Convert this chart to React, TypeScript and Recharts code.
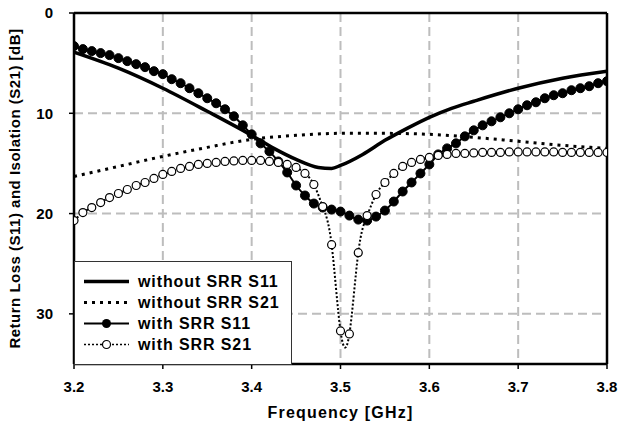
import React from "react";
import {
  LineChart,
  Line,
  XAxis,
  YAxis,
  CartesianGrid,
  Legend,
  ReferenceLine,
} from "recharts";

if (typeof document !== "undefined") document.body.style.margin = "0";

// frequency points (GHz)
const freqCoarse = [3.2, 3.25, 3.3, 3.35, 3.4, 3.425, 3.45, 3.475, 3.49, 3.5, 3.525, 3.55, 3.575, 3.6, 3.625, 3.65, 3.7, 3.75, 3.8];
const freqS21Plain = [3.2, 3.25, 3.3, 3.35, 3.4, 3.45, 3.5, 3.55, 3.6, 3.65, 3.7, 3.75, 3.8];
const freqFine = [
  3.2, 3.21, 3.22, 3.23, 3.24, 3.25, 3.26, 3.27, 3.28, 3.29,
  3.3, 3.31, 3.32, 3.33, 3.34, 3.35, 3.36, 3.37, 3.38, 3.39,
  3.4, 3.41, 3.42, 3.43, 3.44, 3.45, 3.46, 3.47, 3.48, 3.49,
  3.5, 3.51, 3.52, 3.53, 3.54, 3.55, 3.56, 3.57, 3.58, 3.59,
  3.6, 3.61, 3.62, 3.63, 3.64, 3.65, 3.66, 3.67, 3.68, 3.69,
  3.7, 3.71, 3.72, 3.73, 3.74, 3.75, 3.76, 3.77, 3.78, 3.79, 3.8,
];

// dB values
const withoutSrrS11 = [3.9, 5.5, 7.5, 9.8, 12.2, 13.5, 14.6, 15.4, 15.5, 15.2, 14.1, 12.7, 11.5, 10.4, 9.5, 8.8, 7.5, 6.5, 5.8];
const withoutSrrS21 = [16.3, 15.3, 14.3, 13.4, 12.6, 12.2, 12.0, 12.0, 12.1, 12.4, 12.8, 13.2, 13.5];
const withSrrS11 = [
  3.3, 3.6, 3.8, 4.0, 4.2, 4.5, 4.8, 5.1, 5.4, 5.8,
  6.1, 6.6, 7.0, 7.5, 8.0, 8.5, 9.0, 9.6, 10.3, 11.2,
  12.1, 13.0, 13.8, 14.8, 15.9, 17.2, 18.2, 19.0, 19.4, 19.6,
  19.8, 20.2, 20.6, 20.7, 20.3, 19.7, 18.8, 17.8, 16.9, 16.0,
  15.1, 14.1, 13.5, 13.0, 12.3, 11.7, 11.2, 10.8, 10.4, 10.0,
  9.6, 9.2, 8.9, 8.5, 8.2, 8.0, 7.7, 7.5, 7.3, 7.0, 6.8,
];
const withSrrS21 = [
  20.7, 19.9, 19.4, 18.9, 18.4, 18.0, 17.6, 17.2, 16.9, 16.5,
  16.1, 15.8, 15.5, 15.3, 15.1, 15.0, 14.9, 14.8, 14.75, 14.7,
  14.7, 14.7, 14.8, 14.9, 15.1, 15.4, 16.0, 17.1, 19.3, 23.1,
  31.7, 32.0, 23.9, 20.2, 18.1, 16.9, 16.0, 15.3, 14.9, 14.6,
  14.4, 14.2, 14.1, 14.0, 14.0, 13.95, 13.9, 13.9, 13.9, 13.85,
  13.85, 13.85, 13.85, 13.85, 13.85, 13.9, 13.9, 13.9, 13.9, 13.9, 13.9,
];

const xTicks = [3.2, 3.3, 3.4, 3.5, 3.6, 3.7, 3.8];
const yTicks = [0, 10, 20, 30];
const seriesNames = ["without SRR S11", "without SRR S21", "with SRR S11", "with SRR S21"];

const toRows = (f: number[], v: number[]) => f.map((x, i) => ({ f: x, v: v[i] }));

const FONT = "'Liberation Sans', Arial, sans-serif";
const tickStyle = { fontSize: 15, fontWeight: 700, fill: "#000", fontFamily: FONT };

const filledDot = (p: any) => (
  <circle key={`fd-${p.index}`} cx={p.cx} cy={p.cy} r={4.5} fill="#000" stroke="#000" strokeWidth={1} />
);
const openDot = (p: any) => (
  <circle key={`od-${p.index}`} cx={p.cx} cy={p.cy} r={4} fill="#fff" stroke="#000" strokeWidth={1.2} />
);

function LegendIcon({ i }: { i: number }) {
  return (
    <svg width={54} height={21} style={{ display: "block" }}>
      {i === 0 && <line x1={9} x2={54} y1={10.5} y2={10.5} stroke="#000" strokeWidth={3.5} />}
      {i === 1 && (
        <line x1={9} x2={54} y1={10.5} y2={10.5} stroke="#000" strokeWidth={3} strokeDasharray="3 5" />
      )}
      {i === 2 && (
        <>
          <line x1={9} x2={54} y1={10.5} y2={10.5} stroke="#000" strokeWidth={2} />
          <circle cx={31.5} cy={10.5} r={4.5} fill="#000" />
        </>
      )}
      {i === 3 && (
        <>
          <line x1={9} x2={54} y1={10.5} y2={10.5} stroke="#000" strokeWidth={1.5} strokeDasharray="2 2" />
          <circle cx={31.5} cy={10.5} r={4} fill="#fff" stroke="#000" strokeWidth={1.2} />
        </>
      )}
    </svg>
  );
}

function LegendBox() {
  return (
    <div
      style={{
        width: 218,
        height: 104,
        boxSizing: "border-box",
        border: "1px solid #333",
        background: "#fff",
        paddingTop: 9,
        fontFamily: FONT,
      }}
    >
      {seriesNames.map((name, i) => (
        <div key={name} style={{ display: "flex", alignItems: "center", height: 21 }}>
          <LegendIcon i={i} />
          <span
            style={{ marginLeft: 9, fontSize: 16, fontWeight: 700, letterSpacing: 0.9, color: "#000", lineHeight: "21px" }}
          >
            {name}
          </span>
        </div>
      ))}
    </div>
  );
}

export default function App() {
  return (
    <LineChart width={618} height={432} margin={{ top: 13, right: 11, bottom: 0, left: 0 }}>
      <CartesianGrid stroke="#bdbdbd" strokeWidth={2} strokeDasharray="9 5" />
      <XAxis
        dataKey="f"
        type="number"
        domain={[3.2, 3.8]}
        ticks={xTicks}
        tickFormatter={(v: number) => v.toFixed(1)}
        height={68}
        tick={tickStyle}
        tickSize={5}
        tickMargin={12}
        axisLine={{ stroke: "#000", strokeWidth: 2.5 }}
        tickLine={{ stroke: "#000", strokeWidth: 1.5 }}
        allowDataOverflow
        label={{
          value: "Frequency [GHz]",
          position: "insideBottom",
          offset: 14,
          style: { fontSize: 16, fontWeight: 700, fill: "#000", fontFamily: FONT, letterSpacing: 1.2 },
        }}
      />
      <YAxis
        type="number"
        domain={[0, 35]}
        reversed
        ticks={yTicks}
        width={74}
        tick={tickStyle}
        tickSize={5}
        tickMargin={16}
        axisLine={{ stroke: "#000", strokeWidth: 2.5 }}
        tickLine={{ stroke: "#000", strokeWidth: 1.5 }}
        allowDataOverflow
        label={{
          value: "Return Loss (S11) and Isolation (S21) [dB]",
          angle: -90,
          position: "insideLeft",
          offset: 15,
          style: { textAnchor: "middle", fontSize: 15, fontWeight: 700, fill: "#000", fontFamily: FONT, letterSpacing: 0.5 },
        }}
      />
      <ReferenceLine y={0} stroke="#000" strokeWidth={2.5} />
      <ReferenceLine x={3.8} stroke="#000" strokeWidth={2.5} />
      <Line
        data={toRows(freqCoarse, withoutSrrS11)}
        dataKey="v"
        name={seriesNames[0]}
        type="monotone"
        stroke="#000"
        strokeWidth={3.5}
        dot={false}
        isAnimationActive={false}
      />
      <Line
        data={toRows(freqS21Plain, withoutSrrS21)}
        dataKey="v"
        name={seriesNames[1]}
        type="monotone"
        stroke="#000"
        strokeWidth={3}
        strokeDasharray="3 5"
        dot={false}
        isAnimationActive={false}
      />
      <Line
        data={toRows(freqFine, withSrrS11)}
        dataKey="v"
        name={seriesNames[2]}
        type="monotone"
        stroke="#000"
        strokeWidth={2}
        dot={filledDot}
        isAnimationActive={false}
      />
      <Line
        data={toRows(freqFine, withSrrS21)}
        dataKey="v"
        name={seriesNames[3]}
        type="natural"
        stroke="#000"
        strokeWidth={2}
        strokeDasharray="2 2"
        dot={openDot}
        isAnimationActive={false}
      />
      <Legend
        layout="vertical"
        align="center"
        verticalAlign="middle"
        content={() => <LegendBox />}
        wrapperStyle={{ left: 74, top: 261, width: 218, height: 104 }}
      />
    </LineChart>
  );
}
